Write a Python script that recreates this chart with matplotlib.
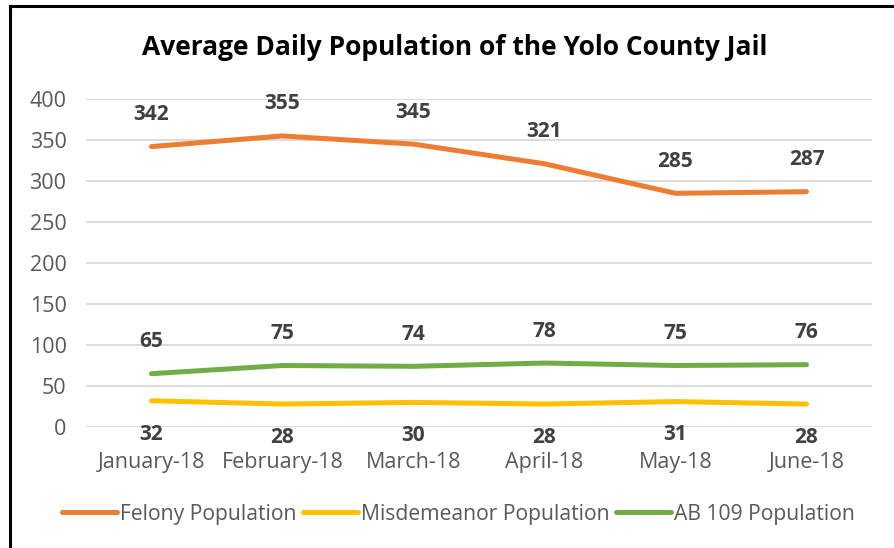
import matplotlib.pyplot as plt
from matplotlib.lines import Line2D

months = ["January-18", "February-18", "March-18", "April-18", "May-18", "June-18"]
felony = [342, 355, 345, 321, 285, 287]
misdemeanor = [32, 28, 30, 28, 31, 28]
ab109 = [65, 75, 74, 78, 75, 76]

plt.rcParams['font.family'] = ['Open Sans', 'DejaVu Sans']

fig = plt.figure(figsize=(8.94, 5.48), dpi=100)
ax = fig.add_axes([0.0962, 0.2208, 0.8792, 0.5985])

x = range(len(months))
series = [
    (felony, "#ED7D31", "Felony Population", 23),
    (misdemeanor, "#FFC000", "Misdemeanor Population", -24),
    (ab109, "#70AD47", "AB 109 Population", 23),
]
for vals, col, name, off in series:
    ax.plot(x, vals, color=col, lw=3.6, solid_capstyle="round", label=name)
    for i, v in enumerate(vals):
        ax.annotate(str(v), (i, v), xytext=(0, off), textcoords="offset points",
                    ha="center", va="center", fontsize=15, fontweight="bold",
                    color="#404040")

ax.set_xlim(-0.5, 5.5)
ax.set_ylim(0, 400)
ax.set_yticks(range(0, 401, 50))
ax.set_xticks(list(x))
ax.set_xticklabels(months)
ax.grid(axis="y", color="#D9D9D9", lw=1.3)
ax.set_axisbelow(True)
for s in ax.spines.values():
    s.set_visible(False)
ax.tick_params(axis="both", length=0, labelsize=15.5, labelcolor="#595959")
ax.tick_params(axis="x", pad=18)
ax.tick_params(axis="y", pad=14)

fig.text(0.509, 0.914, "Average Daily Population of the Yolo County Jail",
         ha="center", va="center", fontsize=19, fontweight="bold", color="black")

handles = [Line2D([], [], color=c, lw=3.6, solid_capstyle="round") for _, c, _, _ in series]
fig.legend(handles, [n for _, _, n, _ in series], loc="center",
           bbox_to_anchor=(0.513, 0.062), ncol=3, frameon=False, fontsize=15.2,
           labelcolor="#595959", handlelength=2.6, handletextpad=0.15,
           columnspacing=0.3)

# outer frame (only top and left visible in the crop)
fig.add_artist(Line2D([0.011, 1.0], [0.989, 0.989], color="black", lw=2.2,
                      transform=fig.transFigure))
fig.add_artist(Line2D([0.011, 0.011], [0.0, 0.989], color="black", lw=2.2,
                      transform=fig.transFigure))

fig.savefig("out.png", dpi=100)
